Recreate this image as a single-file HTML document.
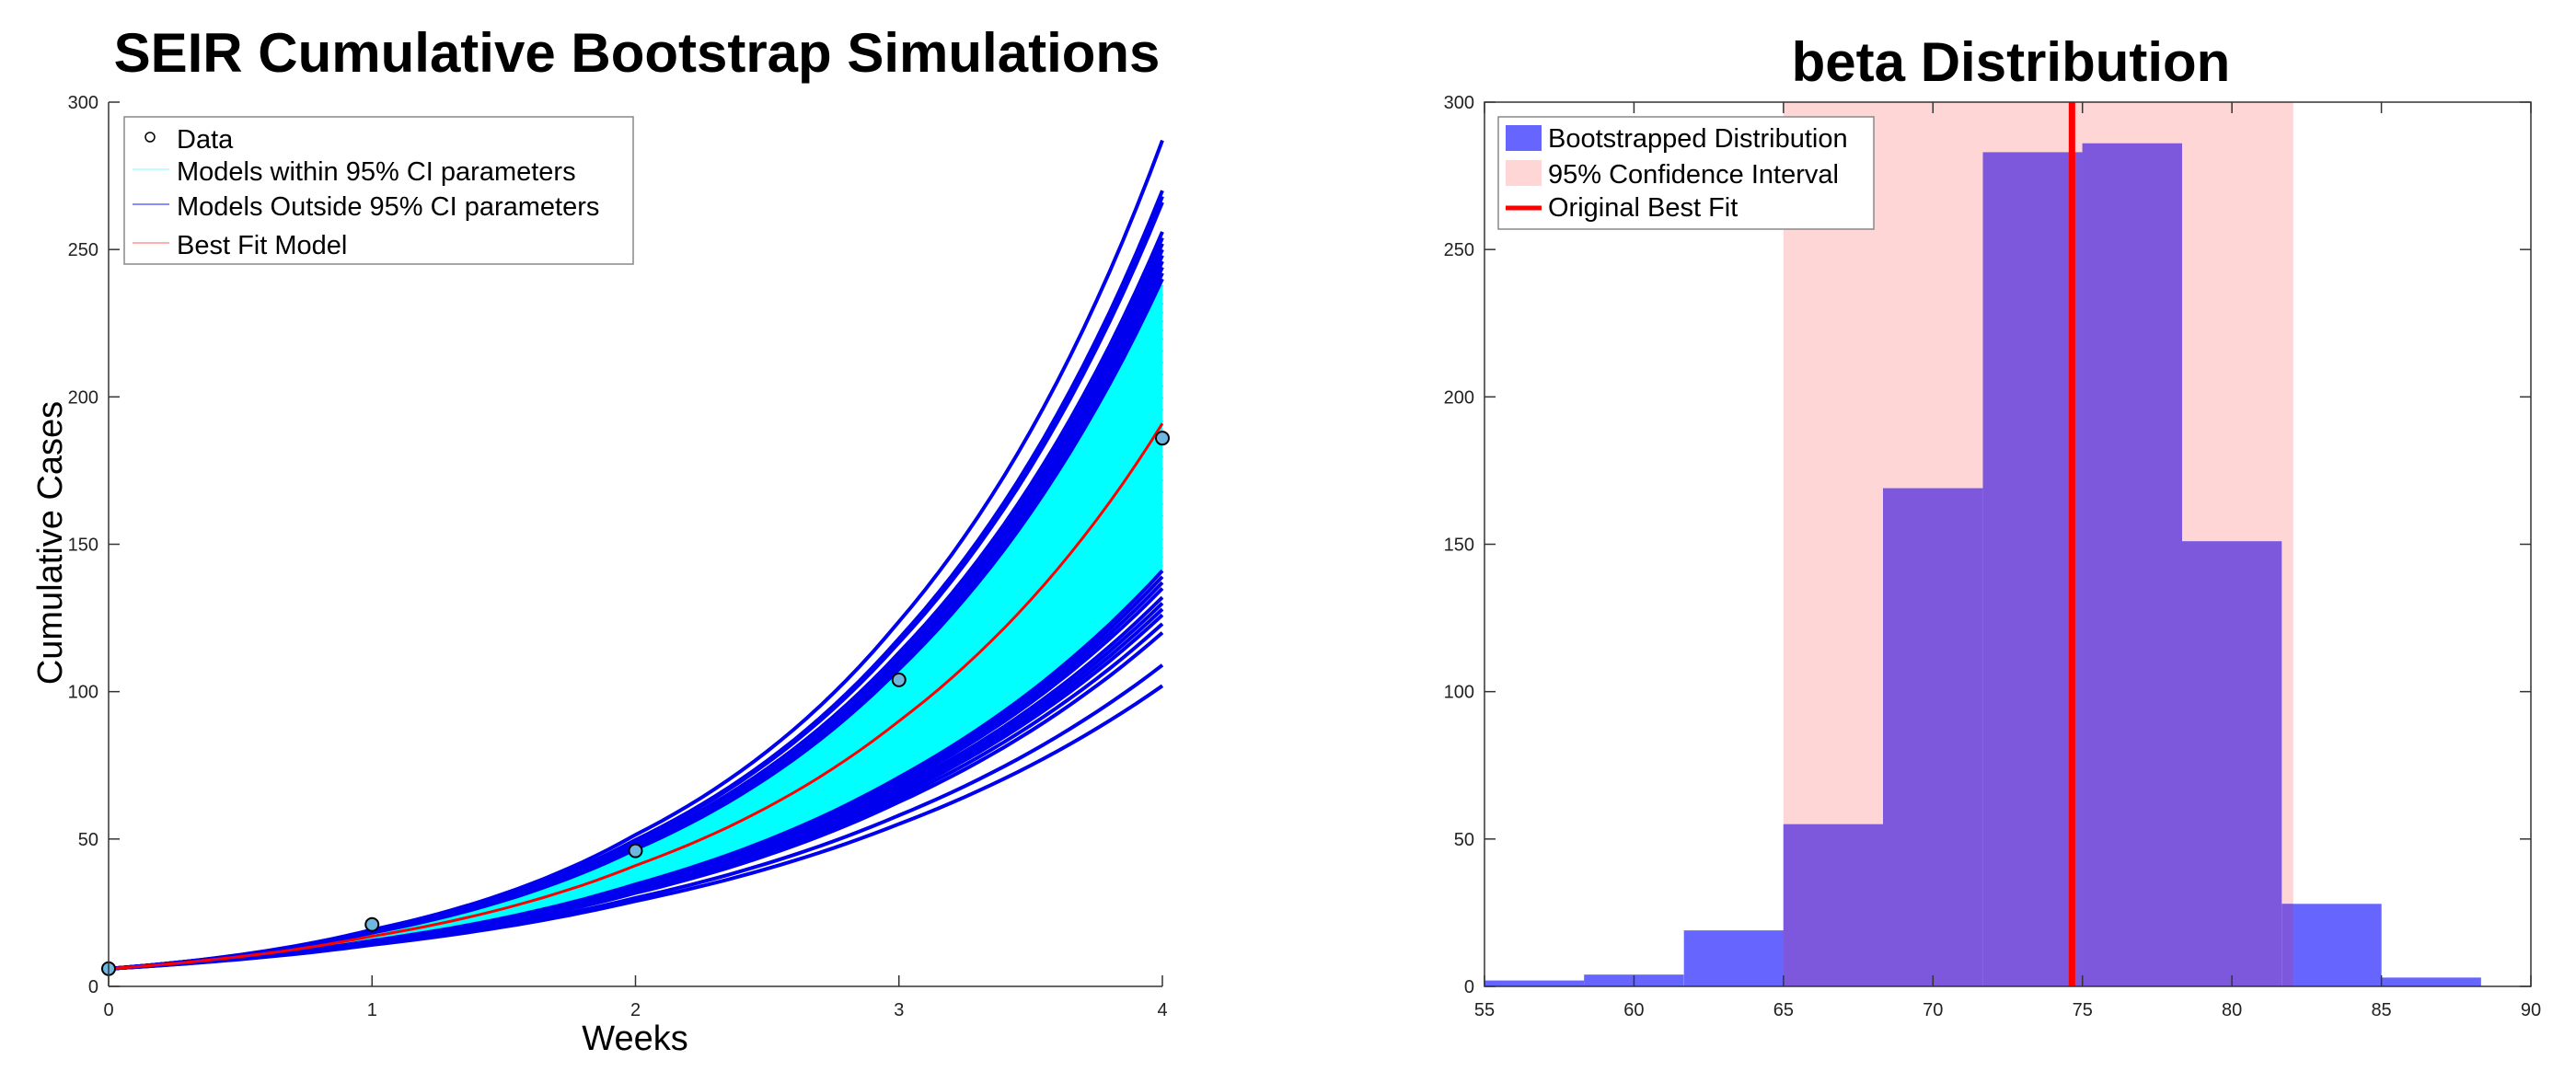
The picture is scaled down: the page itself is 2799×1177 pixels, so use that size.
<!DOCTYPE html>
<html><head><meta charset="utf-8"><style>
html,body{margin:0;padding:0;background:#fff;}
svg{display:block;font-family:"Liberation Sans",sans-serif;}
</style></head><body>
<svg id="s" width="2799" height="1177" viewBox="0 0 2799 1177" xmlns="http://www.w3.org/2000/svg">
<rect width="2799" height="1177" fill="#fff"/>
<text x="692" y="78" text-anchor="middle" font-size="60" font-weight="bold">SEIR Cumulative Bootstrap Simulations</text>
<text x="2185" y="88" text-anchor="middle" font-size="60" font-weight="bold">beta Distribution</text>
<g id="L"></g>
<g id="R"></g>
<text x="690" y="1141" text-anchor="middle" font-size="38">Weeks</text>
<text transform="translate(67,590) rotate(-90)" text-anchor="middle" font-size="38">Cumulative Cases</text>
</svg>
<script>
// ---- left chart data ----
const weekTicks=[0,1,2,3,4];
const caseTicks=[0,50,100,150,200,250,300];
const dataWeeks=[0,1,2,3,4];
const dataCases=[6,21,46,104,186];
const bestFit=[6,17,41,90,191];
const blueEnds=[287,270,268,266,256,254,252,250,248,246,244,242,240,141,139,137,135,132,130,128,126,123,120,109,102];
const cyanEnds=[238,235,232,229,226,223,220,216,212,208,204,200,196,192,188,184,180,176,172,168,164,160,156,152,149,146,143,141];
// ---- right chart data ----
const binStart=[55,58.33,61.67,65,68.33,71.67,75,78.33,81.67,85];
const binWidth=3.333;
const binCounts=[2,4,19,55,169,283,286,151,28,3];
const xTicksR=[55,60,65,70,75,80,85,90];
const yTicksR=[0,50,100,150,200,250,300];
const ciLow=65, ciHigh=82.05, bestBeta=74.65;

const NS="http://www.w3.org/2000/svg";
function mk(p,t,a){const e=document.createElementNS(NS,t);for(const k in a)e.setAttribute(k,a[k]);p.appendChild(e);return e;}
const L=document.getElementById('L'),R=document.getElementById('R');
const T=111,B=1072;
const LX0=118,LX1=1263;
const lx=v=>LX0+(v-0)/4*(LX1-LX0);
const ly=v=>B-(v/300)*(B-T);
function shape(t){const i=Math.min(3,Math.floor(t)),f=t-i;
 const lb=Math.log(bestFit[i])*(1-f)+Math.log(bestFit[i+1])*f;
 return (lb-Math.log(bestFit[0]))/(Math.log(bestFit[4])-Math.log(bestFit[0]));}
function curve(end){let pts=[];for(let k=0;k<=80;k++){const t=k/20;const y=bestFit[0]*Math.pow(end/bestFit[0],shape(t));pts.push(lx(t).toFixed(1)+','+ly(y).toFixed(1));}return pts;}
const cmax=Math.max(...cyanEnds),cmin=Math.min(...cyanEnds);
const band=mk(L,'polygon',{points:curve(cmax).concat(curve(cmin).reverse()).join(' '),fill:'#00ffff'});


cyanEnds.forEach(e=>{const p=mk(L,'polyline',{points:curve(e).join(' '),fill:'none',stroke:'#00ffff','stroke-width':3});

});
blueEnds.forEach(e=>{const p=mk(L,'polyline',{points:curve(e).join(' '),fill:'none',stroke:'#0000ee','stroke-width':4});

});
{let pts=[];for(let k=0;k<=80;k++){const t=k/20;const i=Math.min(3,Math.floor(t)),f=t-i;const y=Math.exp(Math.log(bestFit[i])*(1-f)+Math.log(bestFit[i+1])*f);pts.push(lx(t).toFixed(1)+','+ly(y).toFixed(1));}
const p=mk(L,'polyline',{points:pts.join(' '),fill:'none',stroke:'#ff0000','stroke-width':3});

}
dataWeeks.forEach((w,i)=>{const c=mk(L,'circle',{cx:lx(w),cy:ly(dataCases[i]),r:7,fill:'#6fb6e0',stroke:'#000','stroke-width':2});

});
mk(L,'line',{x1:LX0,y1:T,x2:LX0,y2:B,stroke:'#333','stroke-width':1.5});
mk(L,'line',{x1:LX0,y1:B,x2:LX1,y2:B,stroke:'#333','stroke-width':1.5});
weekTicks.forEach(v=>{mk(L,'line',{x1:lx(v),y1:B,x2:lx(v),y2:B-12,stroke:'#333','stroke-width':1.5});
const t=mk(L,'text',{x:lx(v),y:B+32,'text-anchor':'middle','font-size':20,fill:'#222'});t.textContent=v;

});
caseTicks.forEach(v=>{mk(L,'line',{x1:LX0,y1:ly(v),x2:LX0+12,y2:ly(v),stroke:'#333','stroke-width':1.5});
const t=mk(L,'text',{x:LX0-11,y:ly(v)+7,'text-anchor':'end','font-size':20,fill:'#222'});t.textContent=v;

});
{const g=mk(L,'g',{});
mk(g,'rect',{x:135,y:127,width:553,height:160,fill:'#fff',stroke:'#888','stroke-width':1.5});
const items=[['Data','o'],['Models within 95% CI parameters','#aaffff'],['Models Outside 95% CI parameters','#6666ff'],['Best Fit Model','#ff9999']];
const ys=[151,186,224,266];
items.forEach((it,i)=>{if(it[1]==='o')mk(g,'circle',{cx:163,cy:ys[i]-2,r:5,fill:'none',stroke:'#000','stroke-width':1.5});
else mk(g,'line',{x1:144,y1:ys[i]-2,x2:184,y2:ys[i]-2,stroke:it[1],'stroke-width':1.5});
const t=mk(g,'text',{x:192,y:ys[i]+10,'font-size':29});t.textContent=it[0];

});}
const X0=1613,X1=2750;
const rx=v=>X0+(v-55)/35*(X1-X0);
const ry=v=>B-(v/300)*(B-T);
{const c=mk(R,'rect',{x:rx(ciLow),y:T,width:rx(ciHigh)-rx(ciLow),height:B-T,fill:'#ffd6d6'});

}
binCounts.forEach((c,i)=>{const x0=rx(binStart[i]),x1=rx(binStart[i]+binWidth);
const r=mk(R,'rect',{x:x0,y:ry(c),width:x1-x0,height:B-ry(c),fill:'#6666ff'});


const ox0=Math.max(x0,rx(ciLow)),ox1=Math.min(x1,rx(ciHigh));
if(ox1>ox0)mk(R,'rect',{x:ox0,y:ry(c),width:ox1-ox0,height:B-ry(c),fill:'#7d58dc'});});
{const l=mk(R,'line',{x1:rx(bestBeta),y1:T,x2:rx(bestBeta),y2:B,stroke:'#ff0000','stroke-width':7});

}
mk(R,'rect',{x:X0,y:T,width:X1-X0,height:B-T,fill:'none',stroke:'#333','stroke-width':1.5});
xTicksR.forEach(v=>{mk(R,'line',{x1:rx(v),y1:B,x2:rx(v),y2:B-12,stroke:'#333','stroke-width':1.5});
mk(R,'line',{x1:rx(v),y1:T,x2:rx(v),y2:T+12,stroke:'#333','stroke-width':1.5});
const t=mk(R,'text',{x:rx(v),y:B+32,'text-anchor':'middle','font-size':20,fill:'#222'});t.textContent=v;

});
yTicksR.forEach(v=>{mk(R,'line',{x1:X0,y1:ry(v),x2:X0+12,y2:ry(v),stroke:'#333','stroke-width':1.5});
mk(R,'line',{x1:X1,y1:ry(v),x2:X1-12,y2:ry(v),stroke:'#333','stroke-width':1.5});
const t=mk(R,'text',{x:X0-11,y:ry(v)+7,'text-anchor':'end','font-size':20,fill:'#222'});t.textContent=v;

});
{const g=mk(R,'g',{});
mk(g,'rect',{x:1628,y:127,width:408,height:122,fill:'#fff',stroke:'#888','stroke-width':1.5});
mk(g,'rect',{x:1636,y:136,width:39,height:28,fill:'#6666ff'});
mk(g,'rect',{x:1636,y:174,width:39,height:28,fill:'#ffd6d6'});
mk(g,'line',{x1:1636,y1:226,x2:1675,y2:226,stroke:'#ff0000','stroke-width':5});
[['Bootstrapped Distribution',160],['95% Confidence Interval',199],['Original Best Fit',235]].forEach(a=>{
const t=mk(g,'text',{x:1682,y:a[1],'font-size':29});t.textContent=a[0];

});}
</script>
</body></html>
